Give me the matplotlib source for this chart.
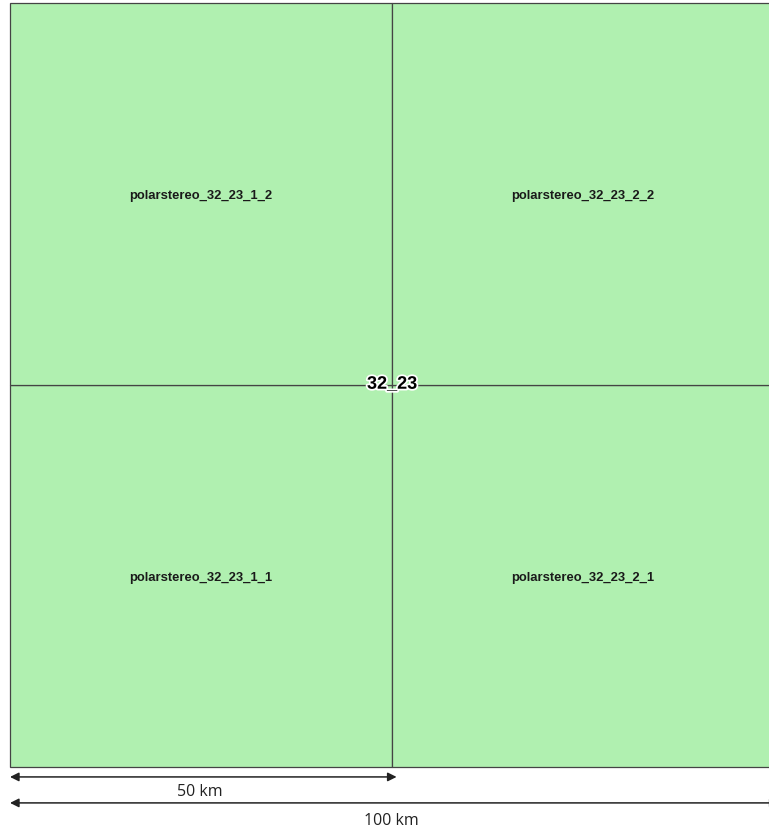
import matplotlib.pyplot as plt
import matplotlib.patheffects as pe

# tile layout (km), 2x2 subtiles of tile 32_23
tile_name = "32_23"
tile_size = 100.0
sub_names = ["polarstereo_32_23_1_1", "polarstereo_32_23_2_1",
             "polarstereo_32_23_1_2", "polarstereo_32_23_2_2"]
sub_col = [0, 1, 0, 1]
sub_row = [0, 0, 1, 1]
scale_lengths = [50, 100]
scale_labels = ["50 km", "100 km"]
scale_y = [-1.3, -4.7]
label_dy = [-1.9, -2.2]

px = 7.64  # pixels per km
W, H = 769, 828
fig = plt.figure(figsize=(W / 100, H / 100), dpi=100)
ax = fig.add_axes([0, 0, 1, 1])
ax.set_xlim(-10 / px, (W - 10) / px)
ax.set_ylim(tile_size - (H - 4) / px, tile_size + 4 / px)
ax.axis("off")

half = tile_size / 2
for name, c, r in zip(sub_names, sub_col, sub_row):
    ax.add_patch(plt.Rectangle((c * half, r * half), half, half,
                               facecolor="#b0f0b0", edgecolor="#444444", lw=0.9))
    ax.text(c * half + half / 2, r * half + half / 2 - 0.15, name,
            ha="center", va="center", fontsize=9.4, fontweight="bold",
            family="Liberation Sans", color="#1a1a1a")

ax.text(half, half + 0.1, tile_name, ha="center", va="center", fontsize=13,
        fontweight="bold", family="Liberation Sans", color="black",
        path_effects=[pe.withStroke(linewidth=2.5, foreground="white")])

for L, lab, y, dy in zip(scale_lengths, scale_labels, scale_y, label_dy):
    ax.annotate("", xy=(0, y), xytext=(L + 0.6, y),
                arrowprops=dict(arrowstyle="<|-|>", color="#222222", lw=1.1,
                                mutation_scale=13, shrinkA=0, shrinkB=0))
    ax.text(L / 2 - 0.1, y + dy, lab,
            ha="center", va="center", fontsize=11.5, family="Open Sans", color="#222222")

fig.savefig("out.png", dpi=100, facecolor="white")
